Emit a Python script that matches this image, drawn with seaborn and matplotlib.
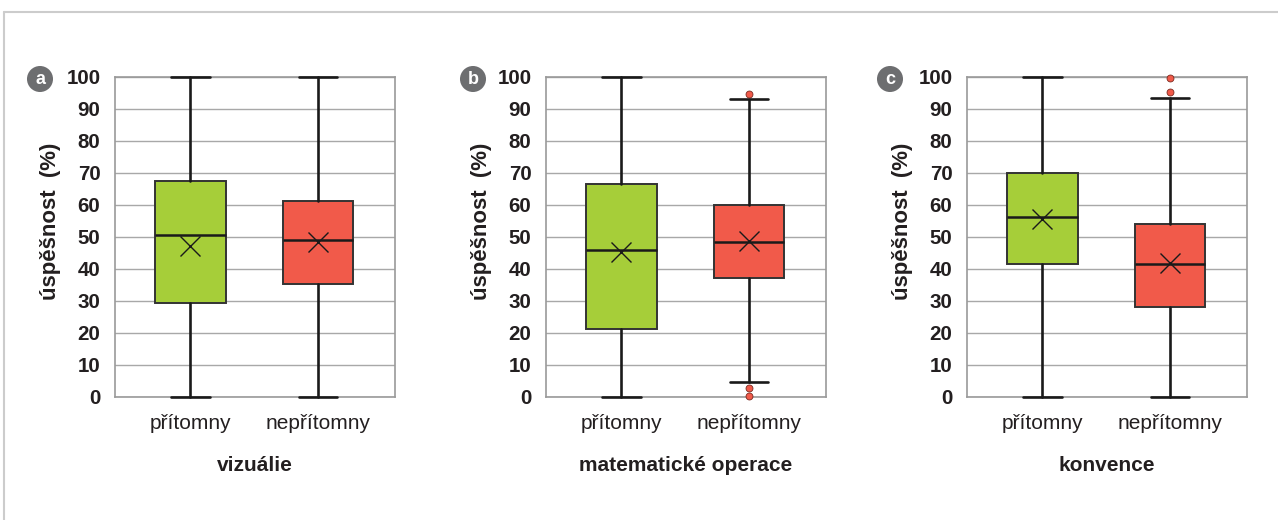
import matplotlib
matplotlib.use("Agg")
import matplotlib.pyplot as plt
from matplotlib.lines import Line2D
import seaborn as sns

# -------------------- DATA --------------------
panels = ["a", "b", "c"]
panel_titles = ["vizuálie", "matematické operace", "konvence"]
groups = ["přítomny", "nepřítomny"]

# per panel: [přítomny, nepřítomny]
whislo = [[0, 0], [0, 4.6], [0, 0]]
q1 = [[29.5, 35.4], [21.1, 37.3], [41.6, 28.1]]
median = [[50.7, 49.0], [45.8, 48.3], [56.2, 41.6]]
q3 = [[67.4, 61.3], [66.7, 60.0], [70.0, 54.0]]
whishi = [[100, 100], [100, 93.0], [100, 93.4]]
means = [[47.1, 48.4], [45.2, 48.6], [55.6, 41.9]]
fliers = [[[], []], [[], [94.8, 2.8, 0.2]], [[], [99.8, 95.2]]]

y_ticks = list(range(0, 101, 10))
box_colors = ["#a6ce39", "#f15a4a"]

# -------------------- STYLE --------------------
sns.set_style("white")
plt.rcParams["font.family"] = ["Liberation Sans", "DejaVu Sans"]

fig = plt.figure(figsize=(12.78, 5.2), dpi=100)

# light frame around the figure (top and left)
fig.add_artist(Line2D([4 / 1278, 1], [1 - 12 / 520, 1 - 12 / 520], color="#cccccc", lw=1.5))
fig.add_artist(Line2D([4 / 1278, 4 / 1278], [0, 1 - 12 / 520], color="#cccccc", lw=1.5))

lefts = [115, 546, 967]
letter_x = [40, 473, 890]
txt = "#231f20"

for i, p in enumerate(panels):
    ax = fig.add_axes([lefts[i] / 1278, 123 / 520, 280 / 1278, 320 / 520])
    stats = []
    for j, g in enumerate(groups):
        stats.append({
            "label": g,
            "whislo": whislo[i][j], "q1": q1[i][j], "med": median[i][j],
            "q3": q3[i][j], "whishi": whishi[i][j],
            "mean": means[i][j], "fliers": fliers[i][j],
        })
    bp = ax.bxp(stats, positions=[0, 1], widths=0.55, capwidths=0.3,
                patch_artist=True, showmeans=True,
                boxprops=dict(edgecolor="#333333", linewidth=1.4),
                medianprops=dict(color="#1a1a1a", linewidth=1.8),
                whiskerprops=dict(color="#1a1a1a", linewidth=1.9),
                capprops=dict(color="#1a1a1a", linewidth=1.9),
                meanprops=dict(marker="x", markersize=14, markeredgecolor="#1a1a1a",
                               markeredgewidth=1.0),
                flierprops=dict(marker="o", markersize=5, markerfacecolor="#f15a4a",
                                markeredgecolor="#7a2a20", markeredgewidth=0.6))
    for patch, c in zip(bp["boxes"], box_colors):
        patch.set_facecolor(c)
        patch.set_zorder(3)
    for k in ("medians", "means", "whiskers", "caps", "fliers"):
        for a in bp[k]:
            a.set_zorder(4)
            a.set_clip_on(False)

    ax.set_xlim(-0.59, 1.6)
    ax.set_ylim(0, 100)
    ax.set_yticks(y_ticks)
    ax.set_yticklabels([str(t) for t in y_ticks], fontsize=14.8, fontweight="bold", color=txt)
    ax.set_xticks([0, 1])
    ax.set_xticklabels(groups, fontsize=15, color=txt)
    ax.tick_params(axis="y", length=0, pad=10.5)
    ax.tick_params(axis="x", length=0, pad=12)
    ax.yaxis.grid(True, color="#a8a8a8", lw=1)
    ax.set_axisbelow(True)
    for s in ax.spines.values():
        s.set_color("#9a9a9a")
        s.set_linewidth(1.2)
        s.set_zorder(2)
    ax.set_ylabel("úspěšnost  (%)", fontsize=16, fontweight="bold", color=txt,
                  labelpad=4, y=0.55)
    ax.set_xlabel(panel_titles[i], fontsize=15, fontweight="bold", color=txt, labelpad=17)

    # panel letter in grey circle
    fig.text(letter_x[i] / 1278, 1 - 79 / 520, p, ha="center", va="center",
             fontsize=13, fontweight="bold", color="white",
             bbox=dict(boxstyle="circle,pad=0.25", facecolor="#6d6e70", edgecolor="none"))

fig.savefig("out.png", dpi=100)
